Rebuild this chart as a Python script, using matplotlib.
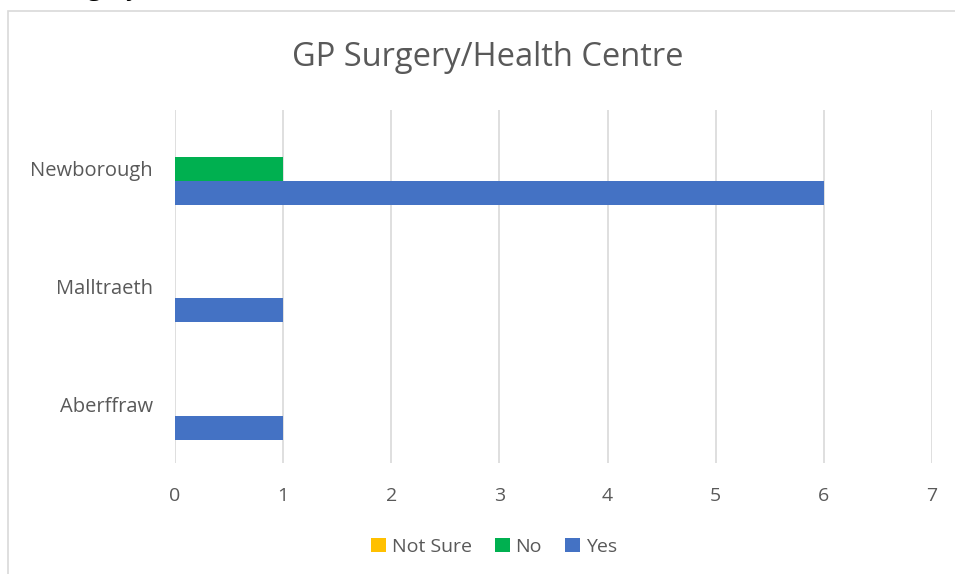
import matplotlib
matplotlib.use("Agg")
import matplotlib.pyplot as plt
from matplotlib.patches import Rectangle
import numpy as np

categories = ["Aberffraw", "Malltraeth", "Newborough"]
series_names = ["Not Sure", "No", "Yes"]
not_sure = [0, 0, 0]
no = [0, 0, 1]
yes = [1, 1, 6]
colors = {"Not Sure": "#FFC000", "No": "#00B050", "Yes": "#4472C4"}
title = "GP Surgery/Health Centre"
x_ticks = [0, 1, 2, 3, 4, 5, 6, 7]

plt.rcParams['font.family'] = ['Open Sans', 'DejaVu Sans']

W, H = 955, 574
fig = plt.figure(figsize=(W / 100, H / 100), dpi=100)

# chart border (light gray), cropped at right & bottom
fig.patches.append(Rectangle((8 / W, -0.1), 1.2, (H - 11) / H + 0.1, transform=fig.transFigure,
                             fill=False, edgecolor="#D9D9D9", linewidth=1.2))

# cropped heading at very top (only the lower edge visible)
fig.text(6 / W, 1 + 4.8 / H, title, fontsize=18.5, color="black", ha="left", va="baseline")

ax = fig.add_axes([175 / W, 1 - 463 / H, (932 - 175) / W, (463 - 110) / H])
y = np.arange(len(categories))
bh = 0.2027
data = [not_sure, no, yes]
for i, (name, vals) in enumerate(zip(series_names, data)):
    offset = (1 - i) * bh
    ax.barh(y + offset, vals, height=bh, color=colors[name], label=name, zorder=3)

ax.set_xlim(0, 7)
ax.set_ylim(-0.5, 2.5)
ax.set_xticks(x_ticks)
ax.set_yticks(y)
ax.set_yticklabels(categories)
ax.grid(axis="x", color="#D9D9D9", linewidth=1.2, zorder=0)
for s in ax.spines.values():
    s.set_visible(False)
ax.tick_params(axis="both", length=0, labelsize=14, labelcolor="#595959")
ax.tick_params(axis="y", labelsize=14.5)
ax.tick_params(axis="x", pad=17)
ax.tick_params(axis="y", pad=16)

fig.text(488 / W, 1 - 58 / H, title, fontsize=23.5, color="#595959", ha="center", va="center")

handles, labels = ax.get_legend_handles_labels()
leg = fig.legend(handles, labels, loc="center", bbox_to_anchor=(494 / W, 1 - 547 / H), ncol=3,
                 frameon=False, fontsize=14, handlelength=0.75, handleheight=0.75,
                 handletextpad=0.3, columnspacing=1.2, labelcolor="#595959")

fig.savefig("out.png", dpi=100)
